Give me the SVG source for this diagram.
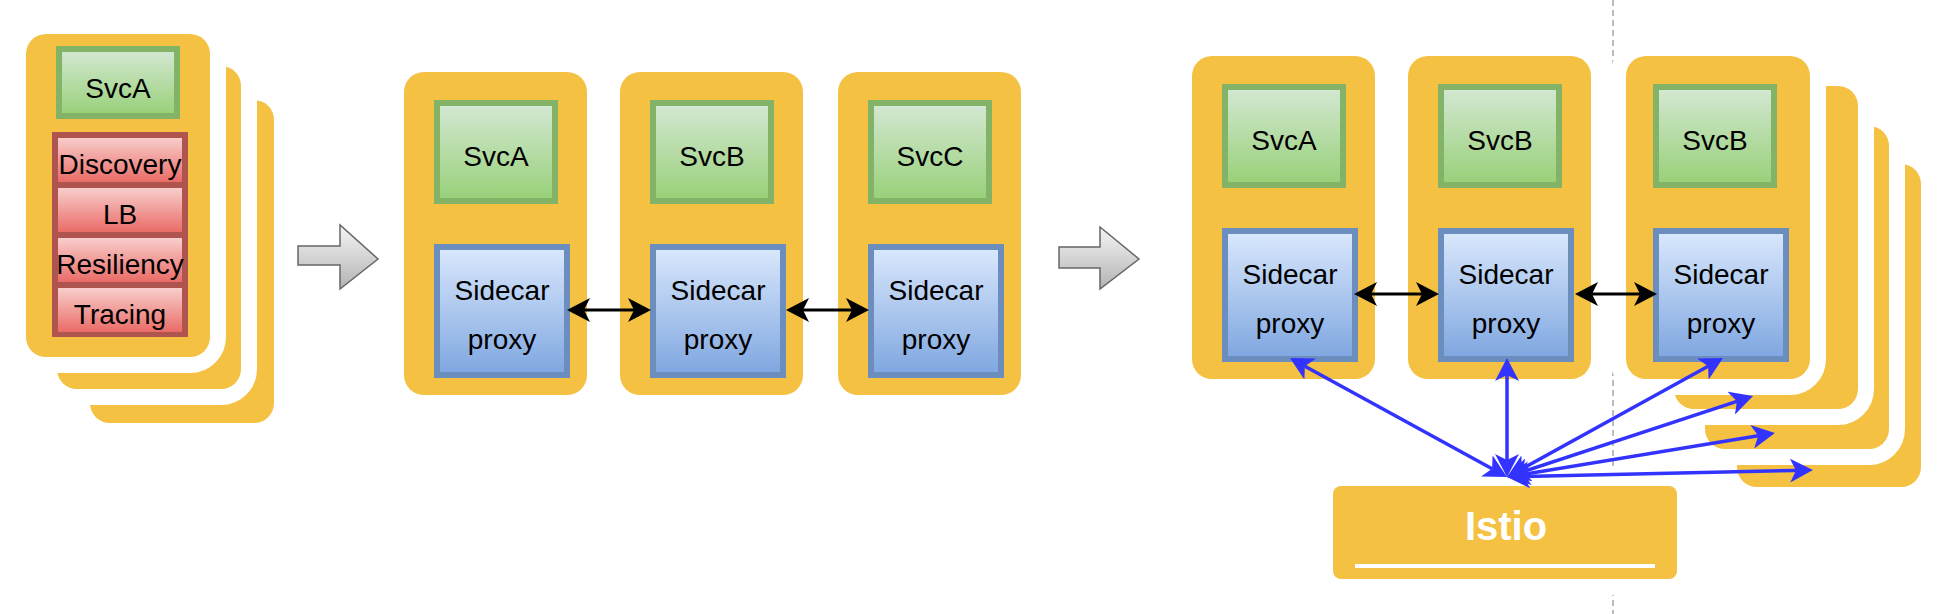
<svg xmlns="http://www.w3.org/2000/svg" width="1958" height="614" viewBox="0 0 1958 614">
<style>
.card{fill:#f4c142;stroke:#ffffff;stroke-width:32;paint-order:stroke fill}
.svc{fill:url(#gGreen);stroke:#82b366;stroke-width:6}
.side{fill:url(#gBlue);stroke:#6c8ebf;stroke-width:6}
.item{fill:url(#gRed)}
.lbl{font-family:"Liberation Sans",Arial,Helvetica,sans-serif;font-size:28px;fill:#000;text-anchor:middle}
.blk{stroke:#000;stroke-width:3;fill:none;marker-start:url(#mBlack);marker-end:url(#mBlack)}
.blu{stroke:#3333ff;stroke-width:3.5;fill:none;marker-start:url(#mBlue);marker-end:url(#mBlue)}
.garrow{fill:url(#gGray);stroke:#666666;stroke-width:1.5}
</style>
<defs>
<linearGradient id="gGreen" x1="0" y1="0" x2="0" y2="1"><stop offset="0" stop-color="#d5e8d4"/><stop offset="1" stop-color="#97d077"/></linearGradient>
<linearGradient id="gBlue" x1="0" y1="0" x2="0" y2="1"><stop offset="0" stop-color="#dae8fc"/><stop offset="1" stop-color="#7ea6e0"/></linearGradient>
<linearGradient id="gRed" x1="0" y1="0" x2="0" y2="1"><stop offset="0" stop-color="#f8cecc"/><stop offset="1" stop-color="#ea6b66"/></linearGradient>
<linearGradient id="gGray" x1="0" y1="0" x2="0" y2="1"><stop offset="0" stop-color="#f5f5f5"/><stop offset="1" stop-color="#b3b3b3"/></linearGradient>
<marker id="mBlack" markerUnits="userSpaceOnUse" markerWidth="24" markerHeight="24" viewBox="0 0 24 24" refX="6" refY="12" orient="auto-start-reverse"><path d="M0,0 L23,12 L0,24 L6,12 Z" fill="#000"/></marker>
<marker id="mBlue" markerUnits="userSpaceOnUse" markerWidth="24" markerHeight="24" viewBox="0 0 24 24" refX="6" refY="12" orient="auto-start-reverse"><path d="M0,0 L23,12 L0,24 L6,12 Z" fill="#3333ff"/></marker>
</defs>

<g id="divider">
<line x1="1613" y1="0" x2="1613" y2="614" stroke="#bdbdbd" stroke-width="2" stroke-dasharray="6 4"/>
</g>

<g id="monolith-stack">
<rect class="card" x="90" y="100" width="184" height="323" rx="20"/>
<rect class="card" x="57" y="66" width="184" height="323" rx="20"/>
<rect class="card" x="26" y="34" width="184" height="323" rx="20"/>
</g>
<g id="mono-svcA">
<rect class="svc" x="59" y="49" width="118" height="67"/>
<text class="lbl" x="118" y="98">SvcA</text>
</g>
<g id="mono-libs">
<rect x="52" y="132" width="136" height="205" fill="#b05450"/>
<rect class="item" x="58" y="138" width="124" height="44"/>
<rect class="item" x="58" y="188" width="124" height="44"/>
<rect class="item" x="58" y="238" width="124" height="44"/>
<rect class="item" x="58" y="288" width="124" height="44"/>
<text class="lbl" x="120" y="174">Discovery</text>
<text class="lbl" x="120" y="224">LB</text>
<text class="lbl" x="120" y="274">Resiliency</text>
<text class="lbl" x="120" y="324">Tracing</text>
</g>

<g id="step-arrow-1">
<path class="garrow" d="M298,246 L340,246 L340,225 L378,259 L340,289 L340,265 L298,265 Z"/>
</g>

<g id="mid-podA">
<rect class="card" x="404" y="72" width="183" height="323" rx="20"/>
<rect class="svc" x="437" y="103" width="118" height="98"/>
<text class="lbl" x="496" y="166">SvcA</text>
<rect class="side" x="437" y="247" width="130" height="128"/>
<text class="lbl" x="502" y="300">Sidecar</text>
<text class="lbl" x="502" y="349">proxy</text>
</g>
<g id="mid-podB">
<rect class="card" x="620" y="72" width="183" height="323" rx="20"/>
<rect class="svc" x="653" y="103" width="118" height="98"/>
<text class="lbl" x="712" y="166">SvcB</text>
<rect class="side" x="653" y="247" width="130" height="128"/>
<text class="lbl" x="718" y="300">Sidecar</text>
<text class="lbl" x="718" y="349">proxy</text>
</g>
<g id="mid-podC">
<rect class="card" x="838" y="72" width="183" height="323" rx="20"/>
<rect class="svc" x="871" y="103" width="118" height="98"/>
<text class="lbl" x="930" y="166">SvcC</text>
<rect class="side" x="871" y="247" width="130" height="128"/>
<text class="lbl" x="936" y="300">Sidecar</text>
<text class="lbl" x="936" y="349">proxy</text>
</g>

<g id="step-arrow-2">
<path class="garrow" d="M1059,247 L1100,247 L1100,227 L1139,259 L1100,289 L1100,268 L1059,268 Z"/>
</g>

<g id="mesh-podA">
<rect class="card" x="1192" y="56" width="183" height="323" rx="20"/>
<rect class="svc" x="1225" y="87" width="118" height="98"/>
<text class="lbl" x="1284" y="150">SvcA</text>
<rect class="side" x="1225" y="231" width="130" height="128"/>
<text class="lbl" x="1290" y="284">Sidecar</text>
<text class="lbl" x="1290" y="333">proxy</text>
</g>
<g id="mesh-podB">
<rect class="card" x="1408" y="56" width="183" height="323" rx="20"/>
<rect class="svc" x="1441" y="87" width="118" height="98"/>
<text class="lbl" x="1500" y="150">SvcB</text>
<rect class="side" x="1441" y="231" width="130" height="128"/>
<text class="lbl" x="1506" y="284">Sidecar</text>
<text class="lbl" x="1506" y="333">proxy</text>
</g>
<g id="mesh-podC-stack">
<rect class="card" x="1737" y="164" width="184" height="323" rx="20"/>
<rect class="card" x="1705" y="126" width="184" height="323" rx="20"/>
<rect class="card" x="1674" y="86" width="184" height="323" rx="20"/>
</g>
<g id="mesh-podC">
<rect class="card" x="1626" y="56" width="184" height="323" rx="20"/>
<rect class="svc" x="1656" y="87" width="118" height="98"/>
<text class="lbl" x="1715" y="150">SvcB</text>
<rect class="side" x="1656" y="231" width="130" height="128"/>
<text class="lbl" x="1721" y="284">Sidecar</text>
<text class="lbl" x="1721" y="333">proxy</text>
</g>

<g id="istio">
<rect x="1333" y="486" width="344" height="93" rx="8" fill="#f4c142" stroke="#ffffff" stroke-width="32" paint-order="stroke fill"/>
<text x="1506" y="540" font-family="'Liberation Sans',Arial,Helvetica,sans-serif" font-size="40" font-weight="bold" fill="#ffffff" text-anchor="middle">Istio</text>
<rect x="1355" y="564" width="300" height="4" fill="#ffffff"/>
</g>

<g id="connectors">
<line class="blk" x1="584" y1="310" x2="634" y2="310"/>
<line class="blk" x1="803" y1="310" x2="852" y2="310"/>
<line class="blk" x1="1371" y1="294" x2="1422" y2="294"/>
<line class="blk" x1="1592" y1="294" x2="1640" y2="294"/>
<line class="blu" x1="1492.1" y1="468.8" x2="1304.9" y2="366.2"/>
<line class="blu" x1="1507" y1="460" x2="1507" y2="375"/>
<line class="blu" x1="1521.9" y1="468.8" x2="1708.1" y2="366.2"/>
<line class="blu" x1="1523.1" y1="471.7" x2="1736.9" y2="401.3"/>
<line class="blu" x1="1523.8" y1="474.2" x2="1758.2" y2="435.8"/>
<line class="blu" x1="1524" y1="476.6" x2="1796" y2="470.4"/>
</g>
</svg>
